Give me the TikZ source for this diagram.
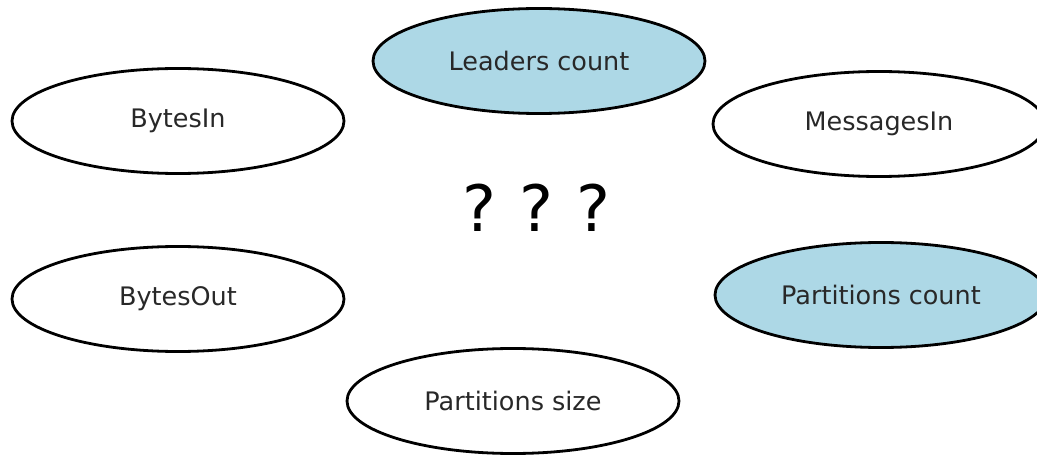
\documentclass[tikz,border=0pt]{standalone}
\usepackage{fontspec}
\setmainfont{DejaVu Sans}
\usetikzlibrary{shapes.geometric}
\definecolor{fillblue}{RGB}{173,216,230}
\definecolor{txt}{RGB}{40,40,40}
\tikzset{
  metric/.style={ellipse, draw=black, line width=2.8pt, minimum width=332pt, minimum height=105pt, inner sep=0pt, font=\fontsize{25.5}{30}\selectfont, text=txt, fill=white},
  known/.style={metric, fill=fillblue}
}
\begin{document}
\begin{tikzpicture}[x=1pt,y=-1pt]
\useasboundingbox (0,0) rectangle (1037,457);
\clip (0,0) rectangle (1037,457);
\fill[white] (0,0) rectangle (1037,457);
\node[known]  (leaders) at (539,61)  {Leaders count};
\node[metric] (bytesin) at (178,121) {BytesIn};
\node[metric] (msgin)   at (879,124) {MessagesIn};
\node[metric] (bytesout) at (178,299) {BytesOut};
\node[known]  (pcount)  at (881,295) {Partitions count};
\node[metric] (psize)   at (513,401) {Partitions size};
\node[font=\fontsize{64}{70}\selectfont, text=black] (q) at (536,208) {?\hspace{0.36em}?\hspace{0.36em}?};
\end{tikzpicture}
\end{document}
